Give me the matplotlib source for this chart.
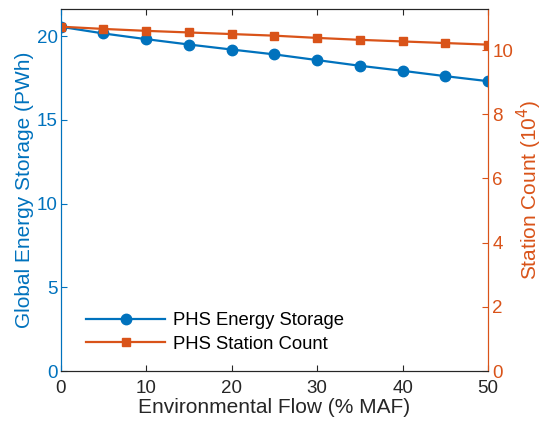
import matplotlib.pyplot as plt

plt.rcParams['font.family'] = ['Liberation Sans', 'DejaVu Sans']

flow = [0, 5, 10, 15, 20, 25, 30, 35, 40, 45, 50]
energy = [20.56, 20.16, 19.82, 19.5, 19.2, 18.91, 18.57, 18.23, 17.93, 17.61, 17.31]
stations = [10.73, 10.66, 10.6, 10.55, 10.5, 10.45, 10.38, 10.32, 10.27, 10.22, 10.17]

blue = '#0072BD'
orange = '#D95319'

fig = plt.figure(figsize=(5.43, 4.25), dpi=100)
ax = fig.add_axes([0.1118, 0.127, 0.787, 0.851])
ax2 = ax.twinx()

l1, = ax.plot(flow, energy, '-o', color=blue, lw=1.6, ms=7.5, label='PHS Energy Storage')
l2, = ax2.plot(flow, stations, '-s', color=orange, lw=1.6, ms=5.5, label='PHS Station Count')

ax.set_xlim(0, 50)
ax.set_ylim(0, 21.6)
ax2.set_ylim(0, 11.27)
ax.set_xticks(range(0, 51, 10))
ax.set_yticks(range(0, 21, 5))
ax2.set_yticks(range(0, 11, 2))

fs = 15
ax.set_xlabel('Environmental Flow (% MAF)', fontsize=fs, color='#262626', labelpad=1)
ax.set_ylabel('Global Energy Storage (PWh)', fontsize=fs, color=blue, labelpad=2)
ax2.set_ylabel('Station Count (10$^4$)', fontsize=fs, color=orange, labelpad=1)

ts = 13.5
ax.tick_params(axis='x', direction='in', top=True, labelsize=ts, colors='#262626', length=4, pad=6.5)
ax.tick_params(axis='y', direction='in', labelsize=ts, colors=blue, length=4, pad=2)
ax2.tick_params(axis='y', direction='in', labelsize=ts, colors=orange, length=4, pad=3)
ax2.tick_params(axis='x', top=True, direction='in')

for a in (ax, ax2):
    a.spines['left'].set_color(blue)
    a.spines['right'].set_color(orange)
    a.spines['top'].set_color('#262626')
    a.spines['bottom'].set_color('#262626')

ax.legend([l1, l2], [l1.get_label(), l2.get_label()], loc='lower left',
          bbox_to_anchor=(0.02, 0.005), frameon=False, fontsize=13.3,
          handlelength=4.3, labelspacing=0.35, handletextpad=0.4)

fig.savefig('out.png', dpi=100)
